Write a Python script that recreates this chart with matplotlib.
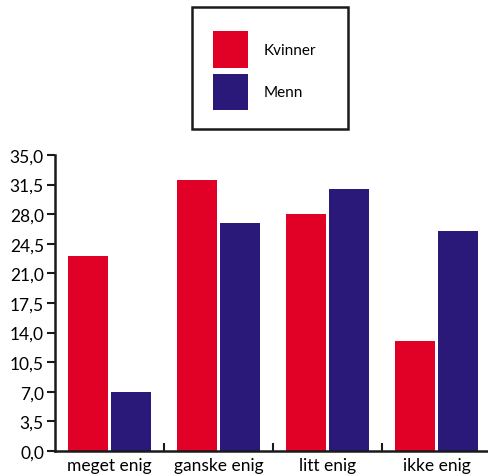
import matplotlib
matplotlib.use("Agg")
import matplotlib.pyplot as plt
from matplotlib.patches import Rectangle
import numpy as np

categories = ["meget enig", "ganske enig", "litt enig", "ikke enig"]
kvinner = [23, 32, 28, 13]
menn = [7, 27, 31, 26]
series_names = ["Kvinner", "Menn"]
ytick_values = [0.0, 3.5, 7.0, 10.5, 14.0, 17.5, 21.0, 24.5, 28.0, 31.5, 35.0]

RED = "#E10026"
BLUE = "#2A1978"
INK = "#1a1a1a"

plt.rcParams["font.family"] = ["Lato", "DejaVu Sans"]

W, H = 489, 477
fig = plt.figure(figsize=(W / 100, H / 100), dpi=100)
ax = fig.add_axes([55 / W, (H - 452) / H, (491 - 55) / W, (452 - 156) / H])

x = np.arange(len(categories))
bw = 0.367
b1 = ax.bar(x - 0.2, kvinner, bw, color=RED, label=series_names[0])
b2 = ax.bar(x + 0.2, menn, bw, color=BLUE, label=series_names[1])

ax.set_xlim(-0.5, len(categories) - 0.5)
ax.set_ylim(0, 35)

for s in ["top", "right"]:
    ax.spines[s].set_visible(False)
for s in ["left", "bottom"]:
    ax.spines[s].set_color(INK)
    ax.spines[s].set_linewidth(1.8)

ax.set_yticks(ytick_values)
ax.set_yticklabels([f"{v:.1f}".replace(".", ",") for v in ytick_values])
ax.tick_params(axis="y", direction="out", length=6, width=1.5, color=INK,
               labelsize=12.5, labelcolor="black", pad=2)

# category labels at group centres, small inward ticks at group boundaries
ax.set_xticks(x)
ax.set_xticklabels(categories)
ax.tick_params(axis="x", length=0, labelsize=12.5, labelcolor="black", pad=4)
ax.set_xticks(np.arange(0.5, len(categories) - 0.5, 1.0), minor=True)
ax.tick_params(axis="x", which="minor", direction="in", length=6, width=1.5, color=INK)

# legend with its own frame
leg = fig.legend(handles=[b1, b2], labels=series_names, frameon=False,
                 loc="upper left", bbox_to_anchor=(213 / W, 1 - 32 / H),
                 fontsize=11, handlelength=2.29, handleheight=3.3,
                 labelspacing=0.4, handletextpad=1.0, borderpad=0,
                 borderaxespad=0)
fig.add_artist(Rectangle((192 / W, 1 - 130 / H), 156 / W, 122 / H,
                         transform=fig.transFigure, fill=False,
                         edgecolor=INK, linewidth=1.8))

fig.savefig("out.png", dpi=100)
